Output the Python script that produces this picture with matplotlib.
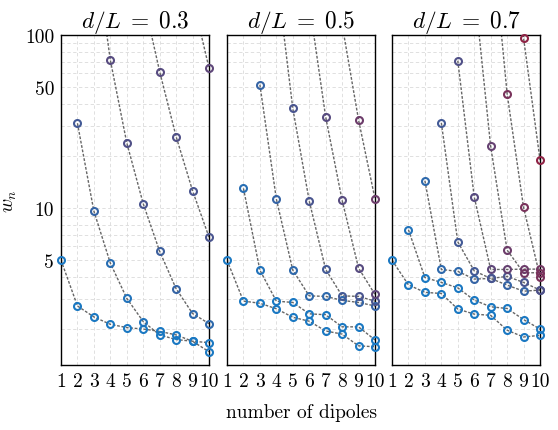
import numpy as np
import matplotlib
matplotlib.use('Agg')
import matplotlib.pyplot as plt
from matplotlib.colors import to_rgb

plt.rc('font', family='serif', serif=['cmr10'], size=14)
plt.rc('mathtext', fontset='cm')
plt.rc('axes', **{'formatter.use_mathtext': True})

# d/L values of the three panels
ratios = [0.3, 0.5, 0.7]
dipoles = np.arange(1, 11)

# each branch: first number of dipoles, w_n values, tint (0 = blue, 1 = red)
start_03 = [1, 2, 3, 6, 9]
w_03 = [
    [5.0, 2.72, 2.35, 2.13, 2.04, 2.00, 1.94, 1.85, 1.70, 1.67],
    [30.9, 9.6, 4.81, 3.01, 2.21, 1.85, 1.74, 1.70, 1.48],
    [350, 71.6, 23.8, 10.6, 5.62, 3.42, 2.46, 2.15],
    [163, 61.4, 25.9, 12.6, 6.8],
    [164, 64.4],
]
tint_03 = [
    [0, 0, 0, 0, 0, 0, 0, 0, 0, 0],
    [0.3, 0.2, 0.1, 0.05, 0.05, 0, 0, 0, 0],
    [0.45, 0.45, 0.4, 0.35, 0.25, 0.2, 0.15, 0.15],
    [0.45, 0.45, 0.4, 0.35, 0.35],
    [0.5, 0.5],
]

start_05 = [1, 2, 3, 4, 6, 8]
w_05 = [
    [5.0, 2.90, 2.82, 2.62, 2.34, 2.22, 1.95, 1.87, 1.60, 1.58],
    [13.0, 4.38, 2.90, 2.85, 2.45, 2.42, 2.06, 2.06, 1.73],
    [51.6, 11.3, 4.38, 3.11, 3.09, 2.93, 2.85, 2.72],
    [230, 37.7, 11.0, 4.42, 3.11, 3.09, 2.90],
    [153, 33.6, 11.1, 4.50, 3.17],
    [115, 32.3, 11.3],
]
tint_05 = [
    [0, 0, 0, 0, 0, 0, 0, 0, 0, 0],
    [0.1, 0.05, 0, 0, 0, 0, 0, 0, 0],
    [0.2, 0.2, 0.15, 0.15, 0.15, 0.15, 0.2, 0.2],
    [0.35, 0.35, 0.35, 0.3, 0.3, 0.35, 0.35],
    [0.45, 0.45, 0.45, 0.45, 0.5],
    [0.6, 0.6, 0.6],
]

start_07 = [1, 2, 3, 4, 5, 6, 7, 8]
w_07 = [
    [5.0, 3.60, 3.26, 3.21, 2.61, 2.44, 2.40, 1.97, 1.80, 1.84],
    [7.49, 3.97, 3.72, 3.46, 2.94, 2.69, 2.63, 2.27, 2.00],
    [14.4, 4.42, 4.31, 3.89, 3.92, 3.59, 3.31, 3.36],
    [31.1, 6.38, 4.34, 3.92, 4.03, 3.72, 3.36],
    [71.0, 11.6, 4.42, 4.42, 4.44, 4.44],
    [189, 22.7, 5.72, 4.23, 4.23],
    [450, 45.8, 10.1, 4.01],
    [700, 96.1, 19.0],
]
tint_07 = [
    [0, 0, 0, 0, 0, 0, 0, 0, 0, 0],
    [0.05, 0, 0, 0, 0, 0, 0, 0, 0],
    [0.15, 0.15, 0.15, 0.2, 0.2, 0.2, 0.2, 0.25],
    [0.3, 0.3, 0.3, 0.35, 0.35, 0.35, 0.4],
    [0.4, 0.45, 0.5, 0.55, 0.6, 0.65],
    [0.55, 0.55, 0.6, 0.65, 0.7],
    [0.7, 0.7, 0.7, 0.7],
    [0.85, 0.85, 0.85],
]

panels = [(start_03, w_03, tint_03), (start_05, w_05, tint_05), (start_07, w_07, tint_07)]

blue = np.array(to_rgb('#1a78c2'))
red = np.array(to_rgb('#A2142F'))
ymin, ymax = 1.24, 100

fig = plt.figure(figsize=(5.58, 4.31), dpi=100)
lefts = [61/558, 227/558, 392/558]
bottom = 65/431
width = 148/558
height = 330/431

for i, (starts, ws, tints) in enumerate(panels):
    ax = fig.add_axes([lefts[i], bottom, width, height])
    ax.set_yscale('log')
    for s, w, t in zip(starts, ws, tints):
        x = dipoles[s-1:s-1+len(w)]
        w = np.array(w)
        ax.plot(x, w, color='0.4', linestyle=(0, (2.0, 1.2)), linewidth=1.0, zorder=2)
        cols = [(1-tt)*blue + tt*red for tt in t]
        for xx, ww, cc in zip(x, w, cols):
            if ww <= ymax:
                ax.plot(xx, ww, 'o', ms=5, mew=1.5, mfc='none', mec=cc,
                        clip_on=False, zorder=3)
    ax.set_xlim(1, 10)
    ax.set_ylim(ymin, ymax)
    ax.set_xticks(dipoles)
    ax.set_xticklabels([str(d) for d in dipoles])
    ax.set_yticks([5, 10, 50, 100])
    ax.set_yticks([2, 3, 4, 6, 7, 8, 9, 20, 30, 40, 60, 70, 80, 90], minor=True)
    if i == 0:
        ax.set_yticklabels(['5', '10', '50', '100'])
        ax.set_ylabel('$w_n$', labelpad=4)
    else:
        ax.set_yticklabels([])
    ax.set_yticklabels([], minor=True)
    ax.tick_params(which='both', length=0, pad=5)
    ax.grid(which='both', color='#dadada', linestyle=(0, (4, 3)), linewidth=0.6)
    ax.set_axisbelow(True)
    for sp in ax.spines.values():
        sp.set_linewidth(1.0)
    ax.set_title('$d/L\\;=\\;%.1f$' % ratios[i], pad=5)

fig.text(302/558, 1 - 413/431, 'number of dipoles', ha='center', va='center')

plt.savefig('out.png', dpi=100)
